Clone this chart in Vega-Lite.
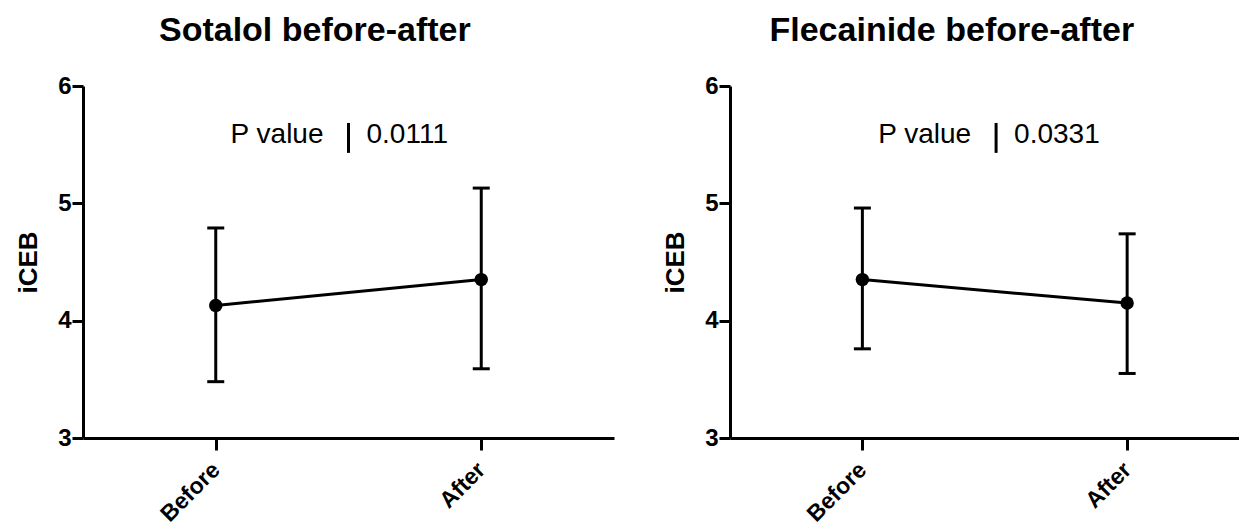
{
  "$schema": "https://vega.github.io/schema/vega-lite/v6.json",
  "background": "white",
  "padding": {"left": 15, "top": 14, "right": 0, "bottom": 0},
  "spacing": 48,
  "config": {
    "view": {"stroke": null},
    "font": "Liberation Sans",
    "axis": {
      "grid": false,
      "domainColor": "black",
      "domainWidth": 3,
      "tickColor": "black",
      "tickWidth": 3,
      "labelColor": "black",
      "labelFont": "Liberation Sans",
      "labelFontWeight": "bold",
      "labelFontSize": 24,
      "titleColor": "black",
      "titleFont": "Liberation Sans",
      "titleFontWeight": "bold",
      "titleFontSize": 26
    },
    "title": {
      "font": "Liberation Sans",
      "fontSize": 34,
      "fontWeight": "bold",
      "color": "black",
      "anchor": "middle",
      "frame": "bounds",
      "offset": 26
    }
  },
  "datasets": {
    "points": [
      {"drug": "Sotalol", "cond": "Before", "idx": 0, "mean": 4.13, "low": 3.48, "high": 4.79},
      {"drug": "Sotalol", "cond": "After", "idx": 1, "mean": 4.35, "low": 3.59, "high": 5.13},
      {"drug": "Flecainide", "cond": "Before", "idx": 0, "mean": 4.35, "low": 3.76, "high": 4.96},
      {"drug": "Flecainide", "cond": "After", "idx": 1, "mean": 4.15, "low": 3.55, "high": 4.74}
    ],
    "pvals": [
      {"drug": "Sotalol", "label": "P value", "p": "0.0111"},
      {"drug": "Flecainide", "label": "P value", "p": "0.0331"}
    ]
  },
  "hconcat": [
    {
      "title": "Sotalol before-after",
      "width": 531,
      "height": 352,
      "layer": [
        {
          "data": {"name": "points"},
          "transform": [{"filter": "datum.drug == 'Sotalol'"}],
          "encoding": {
            "x": {"field": "idx", "type": "quantitative", "title": null,
              "scale": {"domain": [-0.5, 1.5], "nice": false, "zero": false},
              "axis": {"values": [0, 1], "labelExpr": "datum.value == 0 ? 'Before' : 'After'", "labelAngle": -45, "labelAlign": "right", "labelBaseline": "middle", "labelFontSize": 23, "tickSize": 12, "labelPadding": 16}}
          },
          "layer": [
            {"mark": {"type": "rule", "color": "black", "strokeWidth": 3},
             "encoding": {"y": {"field": "low", "type": "quantitative", "title": "iCEB",
               "scale": {"domain": [3, 6], "nice": false, "zero": false},
               "axis": {"values": [3, 4, 5, 6], "format": "d", "tickSize": 11, "labelPadding": 1, "titlePadding": 16}},
               "y2": {"field": "high"}}},
            {"mark": {"type": "tick", "orient": "horizontal", "color": "black", "size": 17, "thickness": 3, "opacity": 1},
             "encoding": {"y": {"field": "low", "type": "quantitative", "title": "iCEB"}}},
            {"mark": {"type": "tick", "orient": "horizontal", "color": "black", "size": 17, "thickness": 3, "opacity": 1},
             "encoding": {"y": {"field": "high", "type": "quantitative", "title": "iCEB"}}},
            {"mark": {"type": "line", "color": "black", "strokeWidth": 3},
             "encoding": {"y": {"field": "mean", "type": "quantitative", "title": "iCEB"}}},
            {"mark": {"type": "point", "filled": true, "color": "black", "size": 180, "opacity": 1},
             "encoding": {"y": {"field": "mean", "type": "quantitative", "title": "iCEB"}}}
          ]
        },
        {
          "data": {"name": "pvals"},
          "transform": [{"filter": "datum.drug == 'Sotalol'"}],
          "layer": [
            {"mark": {"type": "text", "align": "right", "baseline": "alphabetic", "dx": -25, "fontSize": 28, "color": "black"},
             "encoding": {"x": {"datum": 0.5, "type": "quantitative"}, "y": {"datum": 5.515, "type": "quantitative"}, "text": {"field": "label"}}},
            {"mark": {"type": "rule", "color": "black", "strokeWidth": 3},
             "encoding": {"x": {"datum": 0.5, "type": "quantitative"}, "y": {"datum": 5.43, "type": "quantitative"}, "y2": {"datum": 5.685}}},
            {"mark": {"type": "text", "align": "left", "baseline": "alphabetic", "dx": 18, "fontSize": 28, "color": "black"},
             "encoding": {"x": {"datum": 0.5, "type": "quantitative"}, "y": {"datum": 5.515, "type": "quantitative"}, "text": {"field": "p"}}}
          ]
        }
      ]
    },
    {
      "title": "Flecainide before-after",
      "width": 511,
      "height": 352,
      "layer": [
        {
          "data": {"name": "points"},
          "transform": [{"filter": "datum.drug == 'Flecainide'"}],
          "encoding": {
            "x": {"field": "idx", "type": "quantitative", "title": null,
              "scale": {"domain": [-0.5, 1.43], "nice": false, "zero": false},
              "axis": {"values": [0, 1], "labelExpr": "datum.value == 0 ? 'Before' : 'After'", "labelAngle": -45, "labelAlign": "right", "labelBaseline": "middle", "labelFontSize": 23, "tickSize": 12, "labelPadding": 16}}
          },
          "layer": [
            {"mark": {"type": "rule", "color": "black", "strokeWidth": 3},
             "encoding": {"y": {"field": "low", "type": "quantitative", "title": "iCEB",
               "scale": {"domain": [3, 6], "nice": false, "zero": false},
               "axis": {"values": [3, 4, 5, 6], "format": "d", "tickSize": 11, "labelPadding": 1, "titlePadding": 16}},
               "y2": {"field": "high"}}},
            {"mark": {"type": "tick", "orient": "horizontal", "color": "black", "size": 17, "thickness": 3, "opacity": 1},
             "encoding": {"y": {"field": "low", "type": "quantitative", "title": "iCEB"}}},
            {"mark": {"type": "tick", "orient": "horizontal", "color": "black", "size": 17, "thickness": 3, "opacity": 1},
             "encoding": {"y": {"field": "high", "type": "quantitative", "title": "iCEB"}}},
            {"mark": {"type": "line", "color": "black", "strokeWidth": 3},
             "encoding": {"y": {"field": "mean", "type": "quantitative", "title": "iCEB"}}},
            {"mark": {"type": "point", "filled": true, "color": "black", "size": 180, "opacity": 1},
             "encoding": {"y": {"field": "mean", "type": "quantitative", "title": "iCEB"}}}
          ]
        },
        {
          "data": {"name": "pvals"},
          "transform": [{"filter": "datum.drug == 'Flecainide'"}],
          "layer": [
            {"mark": {"type": "text", "align": "right", "baseline": "alphabetic", "dx": -25, "fontSize": 28, "color": "black"},
             "encoding": {"x": {"datum": 0.505, "type": "quantitative"}, "y": {"datum": 5.515, "type": "quantitative"}, "text": {"field": "label"}}},
            {"mark": {"type": "rule", "color": "black", "strokeWidth": 3},
             "encoding": {"x": {"datum": 0.505, "type": "quantitative"}, "y": {"datum": 5.43, "type": "quantitative"}, "y2": {"datum": 5.685}}},
            {"mark": {"type": "text", "align": "left", "baseline": "alphabetic", "dx": 18, "fontSize": 28, "color": "black"},
             "encoding": {"x": {"datum": 0.505, "type": "quantitative"}, "y": {"datum": 5.515, "type": "quantitative"}, "text": {"field": "p"}}}
          ]
        }
      ]
    }
  ]
}
